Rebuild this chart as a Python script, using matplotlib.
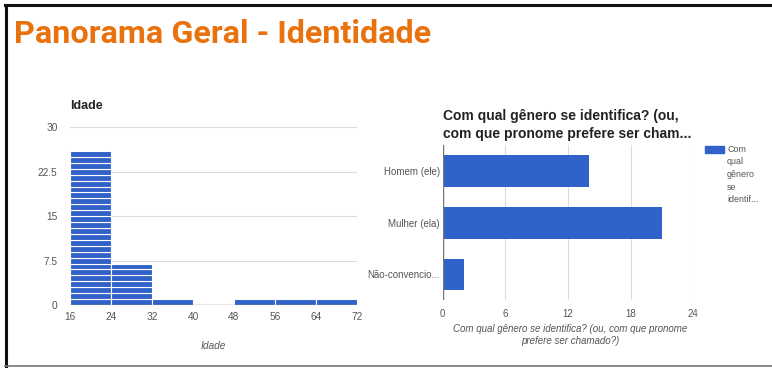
import matplotlib
matplotlib.use("Agg")
import matplotlib.pyplot as plt
from matplotlib.patches import Rectangle
from matplotlib.lines import Line2D

# ============================== data =========================================

age_edges = [16, 24, 32, 40, 48, 56, 64, 72]
age_counts = [26, 7, 1, 0, 1, 1, 1]
age_yticks = [0, 7.5, 15, 22.5, 30]
age_ylabels = ["0", "7.5", "15", "22.5", "30"]

gender_labels = ["Homem (ele)", "Mulher (ela)", "Não-convencio..."]
gender_counts = [14, 21, 2]
gender_xticks = [0, 6, 12, 18, 24]

# ============================== style ========================================

BLUE = "#3062c9"
ORANGE = "#e8730e"
GRID = "#dcdcdc"
TICK = "#555555"

plt.rcParams["font.family"] = ["Liberation Sans", "DejaVu Sans"]

fig = plt.figure(figsize=(7.72, 3.68), dpi=100)
W, H = 772.0, 368.0


def box(x0, y0, x1, y1):
    return [x0 / W, 1 - y1 / H, (x1 - x0) / W, (y1 - y0) / H]


# frame
fig.add_artist(Line2D([5 / W, 1], [1 - 4.5 / H] * 2, color="#111111", lw=2.2,
                      transform=fig.transFigure))
fig.add_artist(Line2D([6 / W] * 2, [1 - 4.5 / H, 1 - 366 / H], color="#111111", lw=2.2,
                      transform=fig.transFigure))
fig.add_artist(Line2D([5 / W, 1], [1 - 366 / H] * 2, color="#777777", lw=1.2,
                      transform=fig.transFigure))

fig.text(14 / W, 1 - 43 / H, "Panorama Geral - Identidade", color=ORANGE,
         fontsize=23.3, fontweight="bold", fontstretch="condensed", family="Roboto",
         ha="left", va="baseline")

# ---------------------------- age histogram ----------------------------------
ax1 = fig.add_axes(box(70, 127.3, 357, 305))
bin_width = age_edges[1] - age_edges[0]
for left, count in zip(age_edges[:-1], age_counts):
    for k in range(count):
        ax1.bar(left, 1, width=bin_width, bottom=k, align="edge", color=BLUE,
                edgecolor="white", linewidth=0.8, zorder=2)
ax1.set_xlim(age_edges[0], age_edges[-1])
ax1.set_ylim(0, 30)
ax1.set_yticks(age_yticks)
ax1.set_yticklabels(age_ylabels)
ax1.set_xticks(age_edges)
ax1.grid(axis="y", color=GRID, lw=0.8, zorder=0)
ax1.axhline(0, color="#888888", lw=1.0, zorder=3)
for s in ax1.spines.values():
    s.set_visible(False)
ax1.tick_params(length=0, labelsize=7.3, colors=TICK, pad=5)
ax1.tick_params(axis="y", pad=9)
ax1.set_xlabel("Idade", fontsize=7.3, style="italic", color=TICK, labelpad=14)
ax1.set_title("Idade", loc="left", fontsize=9, fontweight="bold", color="#222222",
              pad=13)

# ---------------------------- gender bars ------------------------------------
ax2 = fig.add_axes(box(442.7, 145.2, 693.3, 300.3))
ypos = list(range(len(gender_labels)))
ax2.barh(ypos, gender_counts, height=0.61, color=BLUE, zorder=2)
ax2.set_ylim(len(gender_labels) - 0.5, -0.5)
ax2.set_yticks(ypos)
ax2.set_yticklabels(gender_labels)
ax2.set_xlim(0, 24)
ax2.set_xticks(gender_xticks)
ax2.grid(axis="x", color=GRID, lw=0.8, zorder=0)
ax2.axvline(0, color="#777777", lw=1.0, zorder=3)
for s in ax2.spines.values():
    s.set_visible(False)
ax2.tick_params(length=0, labelsize=7, colors=TICK)
ax2.tick_params(axis="x", pad=6)
ax2.tick_params(axis="y", pad=2)
ax2.set_xlabel("Com qual gênero se identifica? (ou, com que pronome\nprefere ser chamado?)",
               fontsize=7, style="italic", color=TICK, labelpad=4, x=0.51)
ax2.set_title("Com qual gênero se identifica? (ou,\ncom que pronome prefere ser cham...",
              loc="left", fontsize=10, fontweight="bold", color="#222222", pad=5,
              linespacing=1.35)

# legend
fig.add_artist(Rectangle((705 / W, 1 - 153.3 / H), 19 / W, 7.6 / H, color=BLUE,
                         transform=fig.transFigure))
fig.text(727 / W, 1 - 145 / H, "Com\nqual\ngênero\nse\nidentif...", fontsize=6.4,
         color=TICK, ha="left", va="top", linespacing=1.5)

plt.savefig("out.png", dpi=100)
